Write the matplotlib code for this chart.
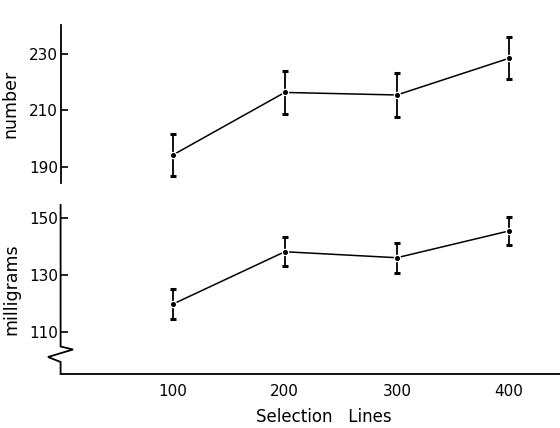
import matplotlib
matplotlib.use("Agg")
import matplotlib.pyplot as plt

lines = [100, 200, 300, 400]
number_mean = [194.2, 216.4, 215.5, 228.5]
number_err = [7.5, 7.7, 7.7, 7.5]
mg_mean = [119.8, 138.2, 136.1, 145.5]
mg_err = [5.2, 5.0, 5.2, 5.0]
number_ticks = [190, 210, 230]
mg_ticks = [110, 130, 150]
x_ticks = [100, 200, 300, 400]

plt.rcParams['font.family'] = ['DejaVu Sans']
W, H = 560, 428
fig = plt.figure(figsize=(W / 100, H / 100), dpi=100)

def px_axes(x0, y0, x1, y1):
    return fig.add_axes([x0 / W, 1 - y1 / H, (x1 - x0) / W, (y1 - y0) / H])

ax1 = px_axes(60.6, 25, 560, 183)
ax2 = px_axes(60.6, 205, 560, 374)

xmax = (560 - 60.6) / 1.121

def draw(ax, mean, err, ticks, ylim, label, labelx):
    ax.errorbar(lines, mean, yerr=err, color='black', lw=1.1, elinewidth=1.3,
                capsize=2.5, capthick=1.3, marker='o', ms=3.2, mfc='black',
                mec='white', mew=2.2, zorder=3)
    ax.plot(lines, mean, 'o', ms=2.6, color='black', zorder=4)
    ax.set_xlim(0, xmax)
    ax.set_ylim(*ylim)
    ax.set_yticks(ticks)
    for s in ['top', 'right', 'bottom']:
        ax.spines[s].set_visible(False)
    ax.spines['left'].set_linewidth(1.3)
    ax.tick_params(axis='y', direction='in', length=5, width=1.2, labelsize=11, pad=2)
    ax.set_ylabel(label, fontsize=12.5)
    ax.yaxis.set_label_coords(labelx, 0.5)

draw(ax1, number_mean, number_err, number_ticks, (184.3, 240.3), 'number', -0.082)
ax1.set_xticks([])

draw(ax2, mg_mean, mg_err, mg_ticks, (95.3, 154.6), 'milligrams', -0.080)
ax2.spines['left'].set_visible(False)
ax2.set_xticks(x_ticks)
ax2.tick_params(axis='x', length=0, labelsize=11, pad=7)

# left spine with break, and bottom axis line, drawn in pixel-based axes coords
def to_ax(px, py):
    return ((px - 60.6) / (560 - 60.6), (374 - py) / (374 - 205))

pts = [(60.6, 205), (60.6, 346.5), (73, 349.5), (48, 357), (60.6, 362), (60.6, 374), (560, 374)]
xs, ys = zip(*[to_ax(*p) for p in pts])
ax2.plot(xs, ys, color='black', lw=1.3, transform=ax2.transAxes, clip_on=False,
         solid_joinstyle='miter')

fig.text(324 / W, 1 - 417 / H, 'Selection   Lines', ha='center', va='center', fontsize=12)

fig.savefig('out.png', dpi=100)
